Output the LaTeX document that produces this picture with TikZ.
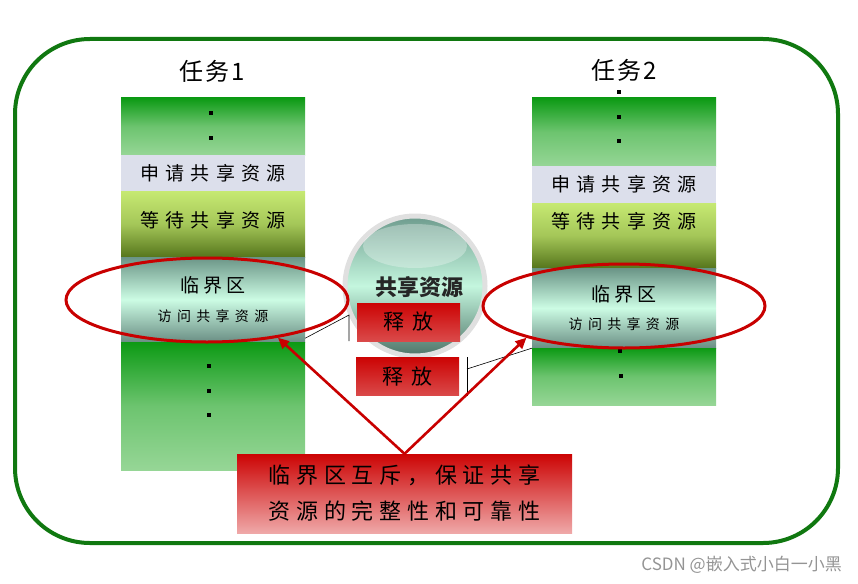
\documentclass[tikz,border=0pt]{standalone}
\usepackage{fontspec}
\setmainfont{Noto Sans CJK SC}
\newfontfamily\cjk{Noto Sans CJK SC}
\newfontfamily\cjktitle[LetterSpace=8]{Noto Sans CJK SC}
\newfontfamily\cjkwide[LetterSpace=32]{Noto Sans CJK SC}
\newfontfamily\cjkmid[LetterSpace=20]{Noto Sans CJK SC}
\newfontfamily\cjksmall[LetterSpace=38]{Noto Sans CJK SC}
\newfontfamily\cjkfree[LetterSpace=40]{Noto Sans CJK SC}
\newfontfamily\cjknote[LetterSpace=26]{Noto Sans CJK SC}
\usetikzlibrary{shapes.geometric, arrows.meta}
\definecolor{framegreen}{HTML}{107810}
\definecolor{topgreen}{HTML}{0C9A14}
\definecolor{lowgreen}{HTML}{96D696}
\definecolor{reqgray}{HTML}{DCDFEB}
\definecolor{waittop}{HTML}{C6E972}
\definecolor{waitlow}{HTML}{56761C}
\definecolor{crittop}{HTML}{6A9486}
\definecolor{critmid}{HTML}{CCFCE4}
\definecolor{critlow}{HTML}{6A8E84}
\definecolor{redline}{HTML}{C80000}
\definecolor{redtop}{HTML}{CC0404}
\definecolor{redlow}{HTML}{DA4A4A}
\definecolor{notelow}{HTML}{EFA8A8}
\definecolor{balltop}{HTML}{6E9C8E}
\definecolor{ballmid}{HTML}{C4F6DE}
\definecolor{balllow}{HTML}{4E7468}
\begin{document}
\begin{tikzpicture}[x=1pt, y=-1pt,
  seg/.style={minimum width=184pt, inner sep=0pt, text=black},
  greenseg/.style={seg, top color=topgreen, bottom color=lowgreen, middle color=lowgreen!70!topgreen},
  reqseg/.style={seg, fill=reqgray, font=\fontsize{19}{20}\cjkwide},
  waitseg/.style={seg, top color=waittop, bottom color=waitlow, middle color=waittop!70!waitlow, font=\fontsize{19}{20}\cjkwide},
  critseg/.style={seg, top color=crittop, bottom color=critlow, middle color=critmid, align=center},
  title/.style={font=\fontsize{24}{26}\cjktitle, inner sep=0pt},
  ring/.style={draw=redline, line width=3pt, ellipse, minimum width=282pt, minimum height=84pt},
  freebox/.style={top color=redtop, bottom color=redlow, minimum width=103pt, minimum height=38pt, inner sep=0pt, font=\fontsize{21}{22}\cjkfree},
  link/.style={black, line width=0.6pt},
  redarrow/.style={redline, line width=2.6pt, -{Triangle[length=11pt, width=10pt]}}
]
\useasboundingbox (0,0) rectangle (858,583);
\draw[framegreen, line width=4pt, rounded corners=75pt] (15,39) rectangle (838,543);

\node[title] (title1) at (212,71) {任务1};
\node[title] (title2) at (624,70) {任务2};

\node[greenseg, minimum height=57pt] (top1) at (213,126.5) {};
\node[reqseg, minimum height=36pt] (req1) at (213,173) {申请共享资源};
\node[waitseg, minimum height=66pt, text depth=10pt] (wait1) at (213,224) {等待共享资源};
\node[critseg, minimum height=85pt] (crit1) at (213,299.5) {{\fontsize{19}{20}\cjkmid 临界区}\\[14pt]{\fontsize{14}{15}\cjksmall 访问共享资源}};
\node[greenseg, minimum height=128pt] (bot1) at (213,406) {};

\node[greenseg, minimum height=68pt] (top2) at (624,132) {};
\node[reqseg, minimum height=37pt] (req2) at (624,184.5) {申请共享资源};
\node[waitseg, minimum height=65pt, text depth=30pt] (wait2) at (624,235.5) {等待共享资源};
\node[critseg, minimum height=80pt] (crit2) at (624,308) {{\fontsize{19}{20}\cjkmid 临界区}\\[14pt]{\fontsize{14}{15}\cjksmall 访问共享资源}};
\node[greenseg, minimum height=57pt] (bot2) at (624,376.5) {};

\foreach \px/\py in {211/113, 211/138, 209/366, 209/391, 209/415, 619/92, 619/117, 619/141, 620/351, 621/376}
  \fill[black] (\px-2.2,\py-2.2) rectangle (\px+2.2,\py+2.2);

\node[circle, minimum size=140pt, draw=black!12, line width=5pt, top color=balltop, bottom color=balllow, middle color=ballmid] (ball) at (415,286) {};
\fill[white, opacity=0.3] (415,246) ellipse (52pt and 22pt);
\node[font=\fontsize{22}{24}\cjk\bfseries, text=black!85] (share) at (419,287) {共享资源};

\node[freebox] (free1) at (408.5,322) {释放};
\node[freebox] (free2) at (407.5,376.5) {释放};

\node[ring] (ell1) at (207,300) {};
\node[ring] (ell2) at (624,306) {};

\coordinate (hook1) at (349,315);
\coordinate (hook2) at (467,369);
\draw[link] (crit1.south east) ++(0,-4) -- (hook1) -- (hook1 |- free1.south);
\draw[link] (crit2.south west) -- (hook2);
\draw[link] (hook2 |- free2.north) -- (hook2 |- free2.south);

\node[top color=redtop, bottom color=notelow, minimum width=335pt, minimum height=79pt, align=center, font=\fontsize{22}{36}\cjknote] (note) at (404.5,493.5) {临界区互斥，保证共享\\资源的完整性和可靠性};
\draw[redarrow] (note.north) -- (ell1.-28);
\draw[redarrow] (note.north) -- (ell2.198);

\node[font=\fontsize{17}{19}\cjk, text=black!42, anchor=east, inner sep=0pt] (mark) at (842,565) {CSDN @嵌入式小白一小黑};
\end{tikzpicture}
\end{document}
